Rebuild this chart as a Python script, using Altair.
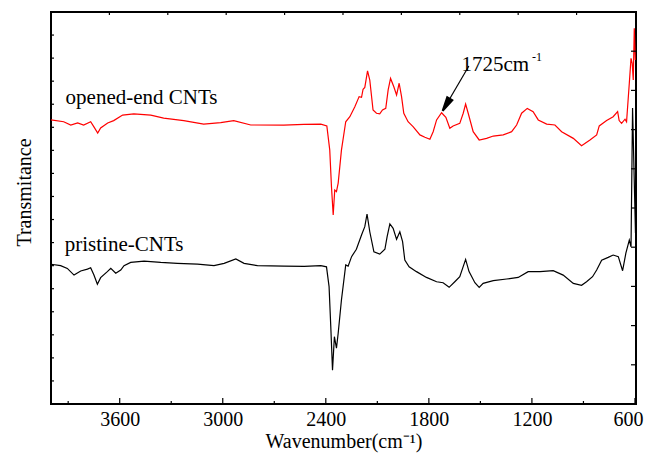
import altair as alt
import pandas as pd

FONT = "Liberation Serif"

# ---- spectra (wavenumber cm-1, transmittance a.u.) ----
opened_wn = [4000, 3926, 3885, 3845, 3810, 3769, 3751, 3728, 3711, 3670,
             3635, 3583, 3518, 3419, 3344, 3227, 3111, 3012, 2936, 2837,
             2645, 2528, 2429, 2394, 2377, 2367, 2357, 2348, 2338, 2328,
             2309, 2284, 2260, 2231, 2206, 2192, 2183, 2173, 2157, 2144,
             2125, 2105, 2086, 2070, 2051, 2037, 2023, 2004, 1988, 1973,
             1959, 1946, 1921, 1892, 1852, 1823, 1794, 1775, 1755, 1726,
             1701, 1678, 1659, 1620, 1600, 1586, 1571, 1542, 1507, 1464,
             1425, 1367, 1318, 1289, 1260, 1227, 1193, 1163, 1114, 1066,
             1027, 959, 911, 862, 823, 808, 765, 727, 701, 692,
             678, 658, 649, 633, 623, 616, 610, 604, 598]
opened_t = [12.32, 12.24, 12.10, 12.19, 12.10, 12.24, 12.03, 11.75, 11.97, 12.19,
            12.29, 12.53, 12.58, 12.53, 12.40, 12.29, 12.14, 12.20, 12.29, 12.10,
            12.09, 12.13, 12.14, 12.06, 11.01, 9.42, 8.20, 9.28, 9.21, 9.58,
            11.01, 12.24, 12.46, 12.89, 13.33, 13.30, 13.65, 13.73, 14.45, 14.05,
            12.75, 12.61, 12.58, 12.75, 12.82, 13.62, 14.12, 13.76, 13.40, 13.91,
            13.33, 12.61, 12.24, 12.03, 11.67, 11.57, 11.48, 11.81, 12.32, 12.63,
            12.43, 11.96, 12.06, 12.17, 12.61, 13.01, 12.61, 11.81, 11.45, 11.52,
            11.62, 11.67, 11.81, 12.10, 12.61, 12.82, 12.68, 12.32, 12.14, 12.10,
            11.81, 11.52, 11.20, 11.45, 11.67, 12.06, 12.29, 12.46, 12.68, 12.29,
            12.17, 12.35, 12.24, 13.91, 14.99, 14.77, 14.05, 16.29, 14.92]

pristine_wn = [4000, 3944, 3905, 3866, 3827, 3788, 3769, 3750, 3730, 3711,
               3672, 3652, 3623, 3594, 3575, 3536, 3458, 3361, 3264, 3147,
               3051, 2992, 2924, 2876, 2798, 2643, 2526, 2429, 2396, 2381,
               2371, 2361, 2350, 2338, 2328, 2309, 2284, 2270, 2250, 2222,
               2192, 2173, 2160, 2144, 2120, 2086, 2056, 2043, 2027, 2008,
               1988, 1969, 1953, 1940, 1915, 1872, 1814, 1755, 1717, 1682,
               1649, 1620, 1586, 1566, 1532, 1507, 1484, 1425, 1347, 1280,
               1222, 1153, 1076, 1018, 959, 911, 882, 847, 823, 794,
               756, 727, 697, 672, 653, 633, 623, 614, 597]
pristine_t = [6.06, 6.00, 5.88, 5.59, 5.77, 5.85, 5.91, 5.59, 5.19, 5.48,
              5.74, 5.88, 5.67, 5.81, 6.00, 6.14, 6.20, 6.14, 6.10, 6.07,
              6.00, 6.10, 6.29, 6.10, 6.00, 5.98, 5.97, 6.00, 5.95, 5.09,
              3.35, 1.47, 2.92, 2.42, 3.07, 4.51, 6.03, 5.98, 6.39, 6.71,
              7.33, 7.69, 8.24, 7.47, 6.60, 6.50, 6.71, 7.26, 7.81, 7.62,
              7.14, 7.47, 7.04, 6.24, 5.95, 5.74, 5.49, 5.30, 5.26, 5.06,
              5.30, 5.52, 6.27, 5.74, 5.26, 5.06, 5.23, 5.35, 5.42, 5.49,
              5.74, 5.74, 5.78, 5.59, 5.23, 5.15, 5.30, 5.52, 5.81, 6.24,
              6.36, 6.46, 6.39, 5.78, 6.54, 7.11, 6.82, 12.84, 7.42]

series_names = ["opened-end CNTs", "pristine-CNTs"]
series_colors = ["#ff0000", "#000000"]

# ---- axes / ticks ----
x_domain = [4000, 594]
y_domain = [0, 17]
x_major = [3600, 3000, 2400, 1800, 1200, 600]
x_minor = [3900, 3300, 2700, 2100, 1500, 900]
x_top = [3660, 3320, 2980, 2640, 2300, 1960, 1620, 1280, 940]
y_left = [1, 2, 3, 4, 5, 6, 7, 8, 9, 10, 11, 12, 13, 14, 15, 16]
y_right = [1.7, 3.4, 5.1, 6.8, 8.5, 10.2, 11.9, 13.6, 15.3]

# ---- labels ----
label_text = ["opened-end CNTs", "pristine-CNTs"]
label_wn = [3915, 3920]
label_t = [13.01, 6.63]

anno_text = "1725cm"
anno_wn = 1610
anno_t = 14.44
anno_sup = "-1"
anno_sup_wn = 1200
anno_sup_t = 14.86
arrow_from = (1567, 14.66)
arrow_to = (1699, 12.98)

W, H = 585, 392

rows = []
for i, (w, t) in enumerate(zip(opened_wn, opened_t)):
    rows.append({"wn": w, "t": t, "s": series_names[0], "i": i})
for i, (w, t) in enumerate(zip(pristine_wn, pristine_t)):
    rows.append({"wn": w, "t": t, "s": series_names[1], "i": i})
spec_df = pd.DataFrame(rows)

xs = alt.Scale(domain=x_domain, nice=False, zero=False)
ys = alt.Scale(domain=y_domain, nice=False, zero=False)

x_axis = alt.Axis(values=x_major, format="d", title="Wavenumber(cm⁻¹)",
                  ticks=False, domain=False, grid=False,
                  labelFont=FONT, labelFontSize=20, labelColor="black",
                  labelBaseline="alphabetic", labelPadding=21,
                  labelFlush=5, labelFlushOffset=8, labelOverlap=False,
                  titleFont=FONT, titleFontSize=20, titleFontWeight="normal",
                  titleColor="black", titleBaseline="alphabetic",
                  titleX=W / 2, titleY=43)
y_axis = alt.Axis(labels=False, ticks=False, domain=False, grid=False,
                  title="Transmitance", titleFont=FONT, titleFontSize=20,
                  titleFontWeight="normal", titleColor="black",
                  titleAngle=270, titleAlign="center",
                  titleBaseline="alphabetic", titleX=-21, titleY=180)


def X(field):
    return alt.X(field, scale=xs, axis=x_axis)


def Y(field):
    return alt.Y(field, scale=ys, axis=y_axis)


lines = alt.Chart(spec_df).mark_line(strokeWidth=1.2).encode(
    x=X("wn:Q"),
    y=Y("t:Q"),
    color=alt.Color("s:N", scale=alt.Scale(domain=series_names, range=series_colors),
                    legend=None),
    order="i:Q",
)


def xrule(vals, y0, y1):
    return alt.Chart(pd.DataFrame({"wn": vals})).mark_rule(color="black", strokeWidth=1.2).encode(
        x=X("wn:Q"), y=alt.value(y0), y2=alt.value(y1))


def yrule(vals, x0, x1):
    return alt.Chart(pd.DataFrame({"t": vals})).mark_rule(color="black", strokeWidth=1.2).encode(
        y=Y("t:Q"), x=alt.value(x0), x2=alt.value(x1))


ticks = [
    xrule(x_major, H, H - 6),
    xrule(x_minor, H, H - 3),
    xrule(x_top, 0, 3),
    yrule(y_left, 0, 3),
    yrule(y_right, W, W - 5),
]

labels = alt.Chart(pd.DataFrame({"wn": label_wn, "t": label_t, "txt": label_text})).mark_text(
    font=FONT, fontSize=21, align="left", baseline="alphabetic", color="black"
).encode(x=X("wn:Q"), y=Y("t:Q"), text="txt:N")

anno = alt.Chart(pd.DataFrame({"wn": [anno_wn], "t": [anno_t], "txt": [anno_text]})).mark_text(
    font=FONT, fontSize=21, align="left", baseline="alphabetic", color="black"
).encode(x=X("wn:Q"), y=Y("t:Q"), text="txt:N")

anno_s = alt.Chart(pd.DataFrame({"wn": [anno_sup_wn], "t": [anno_sup_t], "txt": [anno_sup]})).mark_text(
    font=FONT, fontSize=12, align="left", baseline="alphabetic", color="black"
).encode(x=X("wn:Q"), y=Y("t:Q"), text="txt:N")

arrow_line = alt.Chart(pd.DataFrame({"wn": [arrow_from[0]], "t": [arrow_from[1]],
                                     "wn2": [arrow_to[0]], "t2": [arrow_to[1]]})).mark_rule(
    color="black", strokeWidth=1.2
).encode(x=X("wn:Q"), y=Y("t:Q"), x2="wn2:Q", y2="t2:Q")

arrow_head = alt.Chart(pd.DataFrame({"wn": [arrow_to[0]], "t": [arrow_to[1]]})).mark_point(
    shape="M0,-1L0.42,1L-0.42,1Z", filled=True, size=196, angle=210.5,
    color="black", fill="black", stroke="black", opacity=1
).encode(x=X("wn:Q"), y=Y("t:Q"))

chart = alt.layer(lines, *ticks, labels, anno, anno_s, arrow_line, arrow_head).properties(
    width=W, height=H,
    autosize=alt.AutoSizeParams(type="none"),
    padding={"left": 43, "top": 4, "right": 8, "bottom": 49},
    background="white",
).configure_view(stroke="black", strokeWidth=2)

chart.save("out.html", embed_options={"renderer": "svg", "actions": False})
